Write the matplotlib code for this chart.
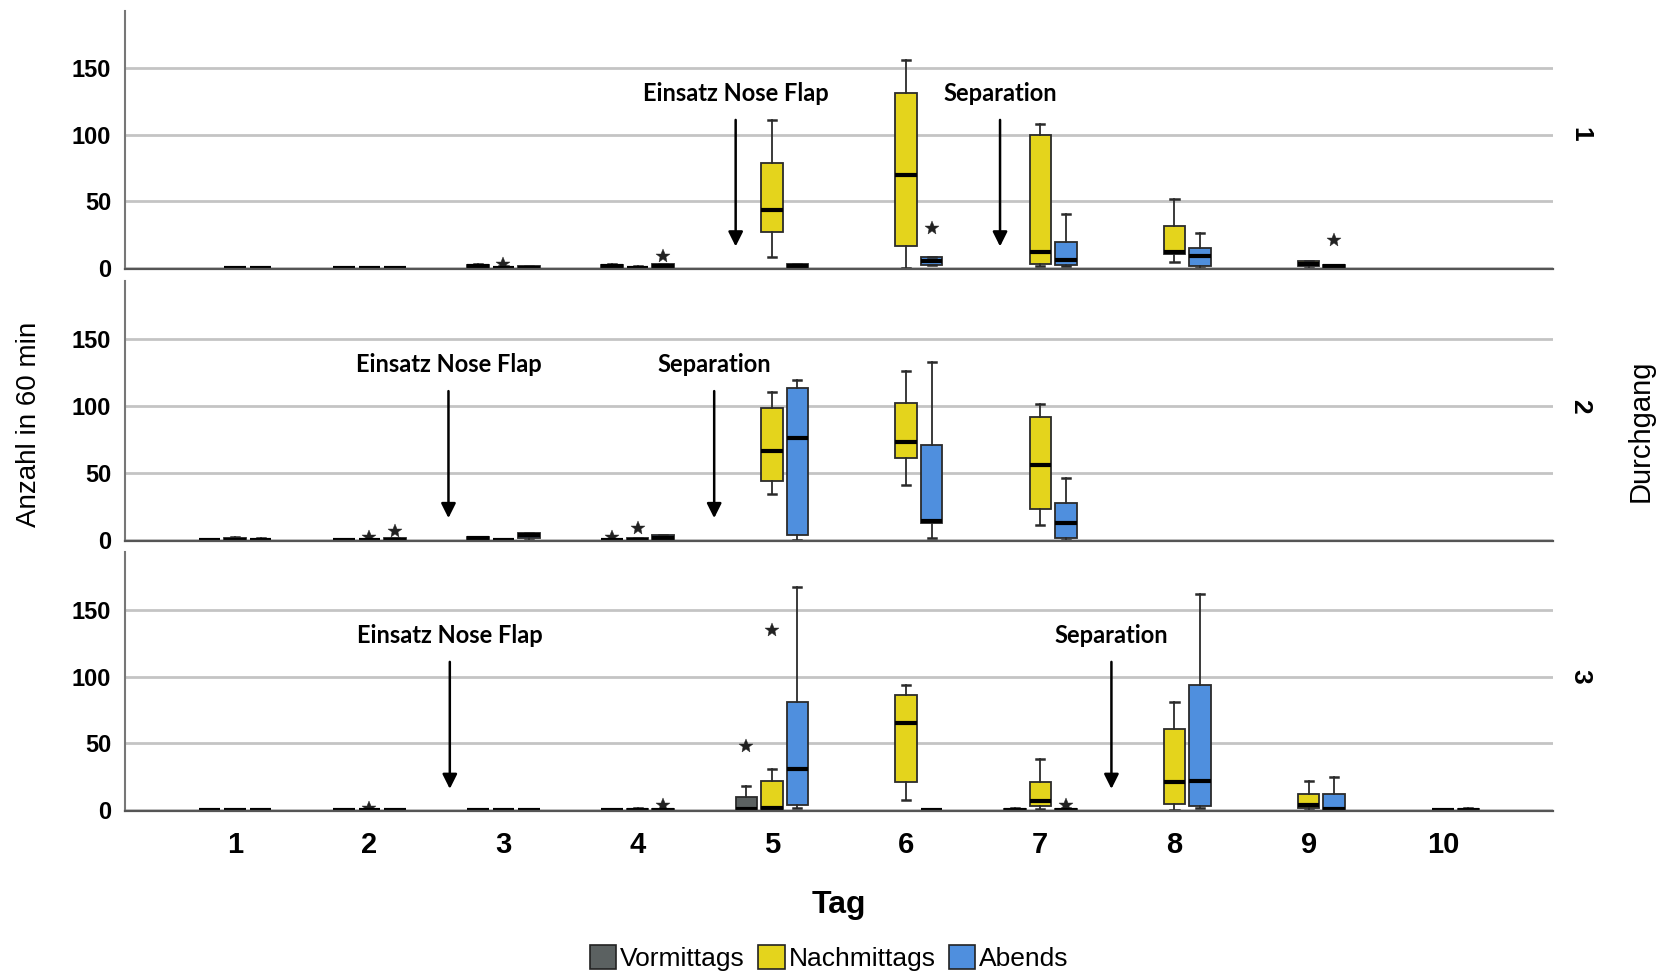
import numpy as np
import matplotlib.pyplot as plt
from matplotlib.patches import Patch
import matplotlib.transforms as mtransforms

days = [1, 2, 3, 4, 5, 6, 7, 8, 9, 10]
groups = ['Vormittags', 'Nachmittags', 'Abends']
colors = ['#5b6161', '#e4d41c', '#4f8fde']
runs = ['1', '2', '3']

# box stats per day: [whisker low, q1, median, q3, whisker high], None = no data
run1_vorm = [None, [0, 0, 0, 0, 0], [0, 0, 1, 2, 3], [0, 0, 1, 2, 3], None,
             None, None, None, None, None]
run1_nach = [[0, 0, 0, 0, 0], [0, 0, 0, 0, 0], [0, 0, 0, 0, 1], [0, 0, 0, 0, 1],
             [8, 27, 43, 79, 111], [0, 16, 70, 131, 156], [1, 3, 12, 100, 108],
             [4, 10, 12, 31, 52], [0, 1, 3, 5, 5], None]
run1_abend = [[0, 0, 0, 0, 0], [0, 0, 0, 0, 0], [0, 0, 0, 1, 1], [0, 0, 1, 3, 3],
              [0, 0, 1, 3, 3], [2, 2, 5, 8, 8], [1, 2, 6, 19, 40],
              [0, 1, 9, 15, 26], [0, 0, 1, 2, 2], None]

run2_vorm = [[0, 0, 0, 0, 0], [0, 0, 0, 0, 0], [0, 0, 1, 2, 2], [0, 0, 0, 0, 0],
             None, None, None, None, None, None]
run2_nach = [[0, 0, 0, 1, 2], [0, 0, 0, 0, 0], [0, 0, 0, 0, 0], [0, 0, 0, 1, 1],
             [34, 44, 66, 98, 110], [41, 61, 73, 102, 126], [11, 23, 56, 92, 101],
             None, None, None]
run2_abend = [[0, 0, 0, 0, 1], [0, 0, 0, 1, 1], [0, 1, 3, 5, 5], [0, 0, 1, 3, 3],
              [0, 3, 76, 113, 119], [1, 12, 14, 71, 133], [0, 1, 12, 27, 46],
              None, None, None]

run3_vorm = [[0, 0, 0, 0, 0], [0, 0, 0, 0, 0], [0, 0, 0, 0, 0], [0, 0, 0, 0, 0],
             [0, 0, 1, 10, 18], None, [0, 0, 0, 1, 2], None, None, None]
run3_nach = [[0, 0, 0, 0, 0], [0, 0, 0, 0, 0], [0, 0, 0, 0, 0], [0, 0, 0, 1, 2],
             [0, 1, 2, 22, 31], [8, 21, 65, 86, 94], [1, 3, 7, 21, 38],
             [0, 5, 21, 61, 81], [0, 2, 4, 12, 22], [0, 0, 0, 0, 0]]
run3_abend = [[0, 0, 0, 0, 0], [0, 0, 0, 0, 0], [0, 0, 0, 0, 0], [0, 0, 0, 1, 1],
              [2, 4, 31, 81, 167], [0, 0, 0, 0, 0], [0, 0, 0, 1, 2],
              [2, 3, 22, 94, 162], [0, 0, 1, 12, 25], [0, 0, 0, 1, 2]]

# extreme values (day, group index, value)
run1_extremes = [(3, 1, 3), (4, 2, 9), (6, 2, 30), (9, 2, 21)]
run2_extremes = [(2, 1, 2), (2, 2, 6.5), (4, 0, 2), (4, 1, 8.5)]
run3_extremes = [(2, 1, 2), (4, 2, 4), (5, 0, 48), (5, 1, 135), (7, 2, 4)]

# event markers: (text, day position)
run1_events = [('Einsatz Nose Flap', 4.73), ('Separation', 6.70)]
run2_events = [('Einsatz Nose Flap', 2.59), ('Separation', 4.57)]
run3_events = [('Einsatz Nose Flap', 2.60), ('Separation', 7.53)]

all_runs = [
    ([run1_vorm, run1_nach, run1_abend], run1_extremes, run1_events),
    ([run2_vorm, run2_nach, run2_abend], run2_extremes, run2_events),
    ([run3_vorm, run3_nach, run3_abend], run3_extremes, run3_events),
]

offsets = [-0.19, 0.0, 0.19]
box_w = 0.16
label_font = ['Lato', 'DejaVu Sans']
arial = ['Liberation Sans', 'DejaVu Sans']

fig = plt.figure(figsize=(16.65, 9.74), dpi=100)
panel_pos = [(0.724, 0.989), (0.445, 0.711), (0.167, 0.433)]
axes = []
for (bot, top) in panel_pos:
    axes.append(fig.add_axes([0.0751, bot, 0.8576, top - bot]))

for ax, (series, extremes, events), run in zip(axes, all_runs, runs):
    for gi, data in enumerate(series):
        stats, pos = [], []
        for d, s in zip(days, data):
            if s is None:
                continue
            lo, q1, med, q3, hi = s
            stats.append(dict(whislo=lo, q1=q1, med=med, q3=q3, whishi=hi, fliers=[]))
            pos.append(d + offsets[gi])
        ax.bxp(stats, positions=pos, widths=box_w, patch_artist=True,
               showfliers=False, manage_ticks=False,
               boxprops=dict(facecolor=colors[gi], edgecolor='#2b2b2b', linewidth=1.3),
               medianprops=dict(color='black', linewidth=3),
               whiskerprops=dict(color='#2b2b2b', linewidth=1.3),
               capprops=dict(color='#2b2b2b', linewidth=1.8),
               capwidths=0.06)
    for d, gi, v in extremes:
        ax.plot(d + offsets[gi], v, marker='*', color='#222222', markersize=10,
                markeredgewidth=0.3, linestyle='none')

    for text, x in events:
        ax.text(x, 131, text, ha='center', va='center', fontsize=17,
                fontweight='bold', family=label_font)
        ax.annotate('', xy=(x, 16), xytext=(x, 111),
                    arrowprops=dict(arrowstyle='-|>', color='black', lw=1.8,
                                    mutation_scale=22, shrinkA=0, shrinkB=0))

    ax.set_xlim(0.18, 10.82)
    ax.set_ylim(-0.8, 193)
    ax.set_yticks([0, 50, 100, 150])
    ax.set_yticklabels(['0', '50', '100', '150'], fontsize=17, fontweight='bold',
                       family=arial)
    ax.tick_params(axis='y', length=0, pad=10)
    ax.grid(axis='y', color='#c4c4c4', linewidth=2)
    ax.set_axisbelow(True)
    for side in ['top', 'right']:
        ax.spines[side].set_visible(False)
    ax.spines['left'].set_color('#777777')
    ax.spines['left'].set_linewidth(1.5)
    ax.spines['bottom'].set_color('#555555')
    ax.spines['bottom'].set_linewidth(1.6)

    # run number on the right
    trans = mtransforms.blended_transform_factory(ax.transAxes, ax.transData)
    ax.text(1.019, 100, run, transform=trans, rotation=-90, ha='center',
            va='center', fontsize=19, fontweight='bold', family=arial)

for ax in axes[:2]:
    ax.set_xticks([])
axes[2].set_xticks(days)
axes[2].set_xticklabels([str(d) for d in days], fontsize=21, fontweight='bold',
                        family=arial)
axes[2].tick_params(axis='x', length=0, pad=14)

fig.text(0.504, 0.071, 'Tag', ha='center', va='center', fontsize=23,
         fontweight='bold', family=arial)
fig.text(0.0172, 0.564, 'Anzahl in 60 min', ha='center', va='center',
         rotation=90, fontsize=20, family=arial)
fig.text(0.9854, 0.558, 'Durchgang', ha='center', va='center', rotation=90,
         fontsize=21, family=arial)

handles = [Patch(facecolor=c, edgecolor='#222222', linewidth=1.2) for c in colors]
fig.legend(handles, groups, loc='center', bbox_to_anchor=(0.498, 0.0165),
           ncol=3, frameon=False, handlelength=1.0, handleheight=1.0,
           handletextpad=0.15, columnspacing=0.5,
           prop=dict(family=arial, size=19))

fig.savefig('out.png', dpi=100)
